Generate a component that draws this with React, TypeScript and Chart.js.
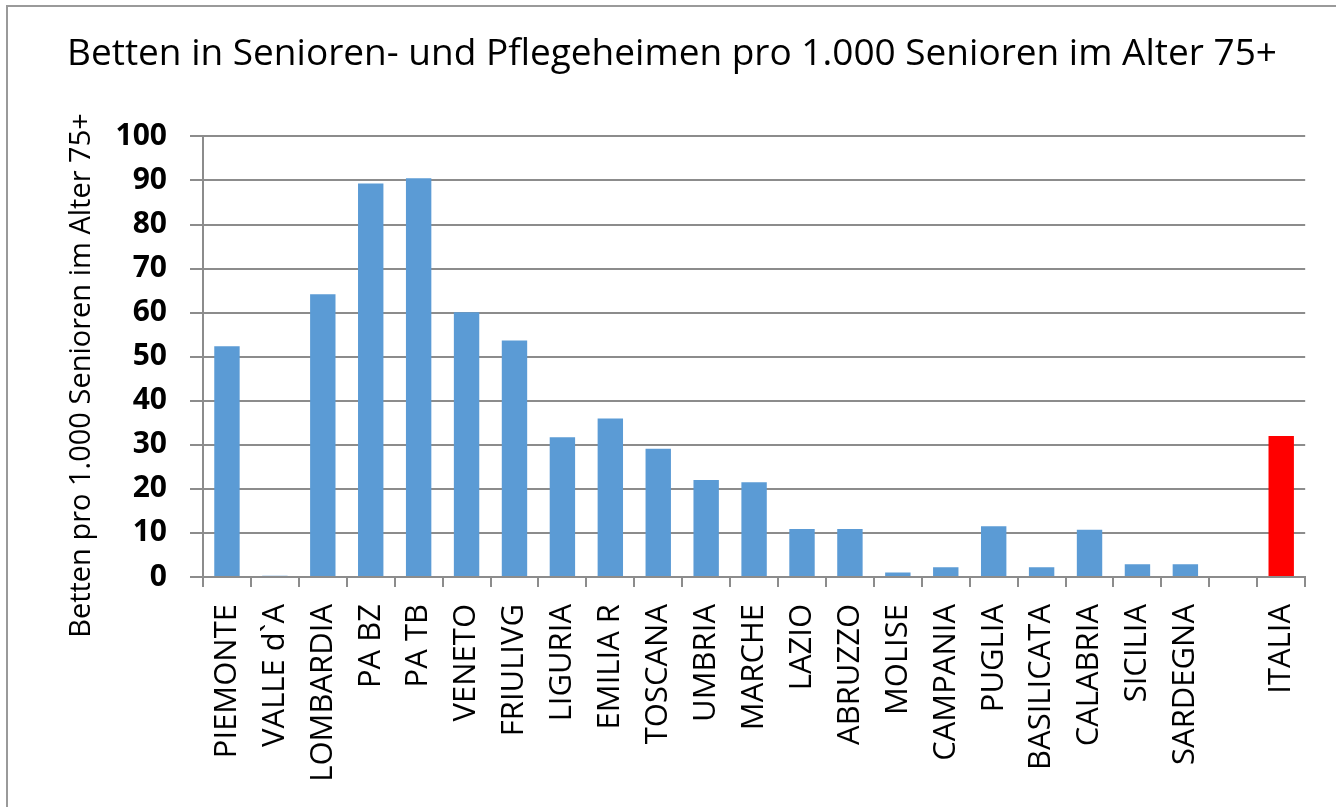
import React, { useEffect, useRef } from "react";
import { Chart, registerables } from "chart.js";

Chart.register(...registerables);

const categories: string[] = [
  "PIEMONTE", "VALLE d`A", "LOMBARDIA", "PA BZ", "PA TB", "VENETO", "FRIULIVG",
  "LIGURIA", "EMILIA R", "TOSCANA", "UMBRIA", "MARCHE", "LAZIO", "ABRUZZO",
  "MOLISE", "CAMPANIA", "PUGLIA", "BASILICATA", "CALABRIA", "SICILIA", "SARDEGNA",
  "", "ITALIA",
];

const bedsPer1000: (number | null)[] = [
  52.4, 0.3, 64.2, 89.3, 90.5, 60.1, 53.7,
  31.7, 36.0, 29.1, 22.0, 21.5, 10.9, 10.9,
  1.0, 2.2, 11.5, 2.2, 10.7, 2.9, 2.9,
  null, 32.0,
];

const barColors: string[] = categories.map((c) => (c === "ITALIA" ? "#ff0000" : "#5b9bd5"));

const yTicks = { min: 0, max: 100, step: 10 };

const titleText = "Betten in Senioren- und Pflegeheimen pro 1.000 Senioren im Alter 75+";
const yTitleText = "Betten pro 1.000 Senioren im Alter 75+";

export default function App() {
  const ref = useRef<HTMLCanvasElement | null>(null);

  useEffect(() => {
    document.body.style.margin = "0";
    const canvas = ref.current;
    if (!canvas) return;
    const chart = new Chart(canvas, {
      type: "bar",
      data: {
        labels: categories,
        datasets: [
          {
            data: bedsPer1000,
            backgroundColor: barColors,
            barPercentage: 0.53,
            categoryPercentage: 1,
          },
        ],
      },
      options: {
        animation: false,
        responsive: false,
        maintainAspectRatio: false,
        layout: { padding: { left: 0, right: 0, top: 0, bottom: 0 } },
        plugins: {
          legend: { display: false },
          tooltip: { enabled: false },
          title: {
            display: true,
            text: titleText,
            color: "#000000",
            font: { family: "'Open Sans'", size: 37, weight: "normal", lineHeight: 1.2 },
            padding: { top: 25, bottom: 60 },
          },
        },
        scales: {
          x: {
            grid: {
              display: true,
              drawOnChartArea: false,
              drawTicks: true,
              tickLength: 10,
              color: "#8c8c8c",
              lineWidth: 2,
              offset: true,
            },
            border: { display: true, color: "#8c8c8c", width: 2 },
            ticks: {
              autoSkip: false,
              minRotation: 90,
              maxRotation: 90,
              padding: 17,
              color: "#000000",
              font: { family: "'Open Sans'", size: 31, weight: "normal" },
            },
            afterFit: (scale: any) => {
              scale.height = 230;
            },
          },
          y: {
            min: yTicks.min,
            max: yTicks.max,
            grid: {
              color: "#8c8c8c",
              lineWidth: 2,
              tickLength: 13,
            },
            border: { display: true, color: "#8c8c8c", width: 2 },
            ticks: {
              stepSize: yTicks.step,
              padding: 23,
              color: "#000000",
              font: { family: "'Open Sans'", size: 30, weight: "bold" },
            },
            title: {
              display: true,
              text: yTitleText + "     ",
              color: "#000000",
              font: { family: "'Open Sans'", size: 29, weight: "normal", lineHeight: 1.2 },
              padding: { top: 56, bottom: 0 },
            },
            afterFit: (scale: any) => {
              scale.width = 195;
            },
          },
          yRight: {
            position: "right",
            min: yTicks.min,
            max: yTicks.max,
            grid: { display: false, drawOnChartArea: false },
            border: { display: false },
            ticks: { display: false },
            afterFit: (scale: any) => {
              scale.width = 27;
            },
          },
        },
      },
    });
    return () => chart.destroy();
  }, []);

  return (
    <div
      style={{
        position: "absolute",
        left: 6,
        top: 5,
        width: 1330,
        height: 802,
        boxSizing: "border-box",
        borderTop: "2px solid #9a9a9a",
        borderLeft: "2px solid #9a9a9a",
        background: "#ffffff",
      }}
    >
      <canvas ref={ref} width={1328} height={800} style={{ display: "block" }} />
    </div>
  );
}
